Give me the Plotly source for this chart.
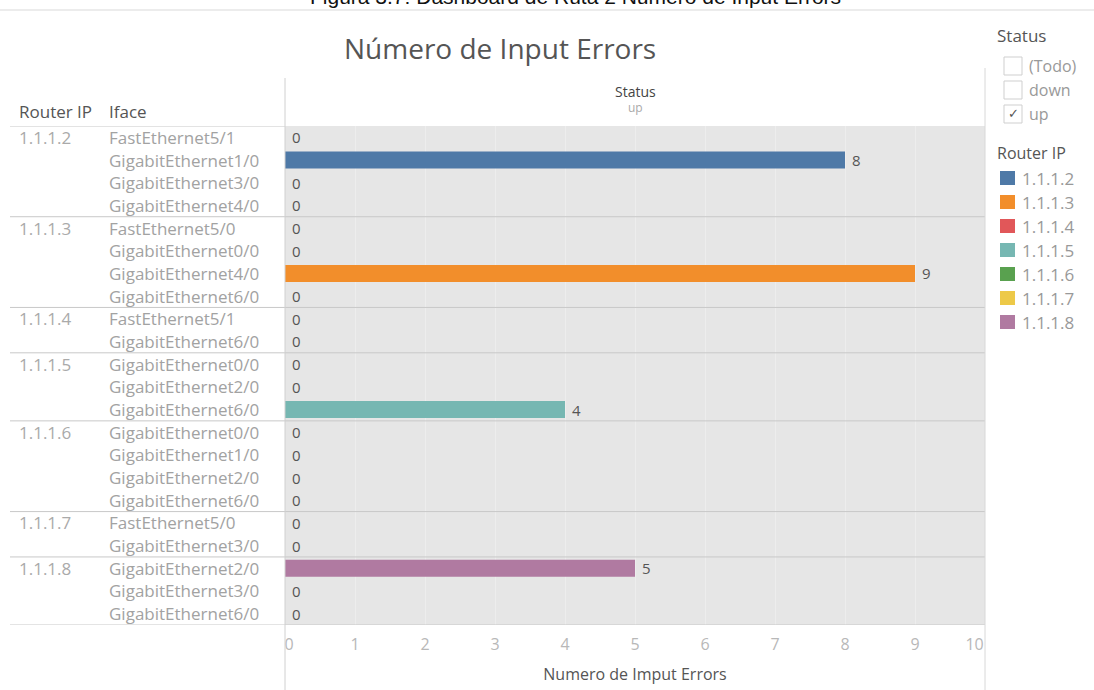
import plotly.graph_objects as go

# data
router_ip = ["1.1.1.2"] * 4 + ["1.1.1.3"] * 4 + ["1.1.1.4"] * 2 + ["1.1.1.5"] * 3 + \
            ["1.1.1.6"] * 4 + ["1.1.1.7"] * 2 + ["1.1.1.8"] * 3
iface = [
    "FastEthernet5/1", "GigabitEthernet1/0", "GigabitEthernet3/0", "GigabitEthernet4/0",
    "FastEthernet5/0", "GigabitEthernet0/0", "GigabitEthernet4/0", "GigabitEthernet6/0",
    "FastEthernet5/1", "GigabitEthernet6/0",
    "GigabitEthernet0/0", "GigabitEthernet2/0", "GigabitEthernet6/0",
    "GigabitEthernet0/0", "GigabitEthernet1/0", "GigabitEthernet2/0", "GigabitEthernet6/0",
    "FastEthernet5/0", "GigabitEthernet3/0",
    "GigabitEthernet2/0", "GigabitEthernet3/0", "GigabitEthernet6/0",
]
input_errors = [0, 8, 0, 0, 0, 0, 9, 0, 0, 0, 0, 0, 4, 0, 0, 0, 0, 0, 0, 5, 0, 0]
routers = ["1.1.1.2", "1.1.1.3", "1.1.1.4", "1.1.1.5", "1.1.1.6", "1.1.1.7", "1.1.1.8"]
router_colors = ["#4e79a7", "#f28e2b", "#e15759", "#76b7b2", "#59a14f", "#edc948", "#b07aa1"]
x_ticks = list(range(11))
status_options = ["(Todo)", "down", "up"]
status_checked = ["up"]

W, H = 1094, 690
FONT = "Open Sans"
NB = "\u00a0"


def px(x):
    return x / W


def py(y):
    return 1 - y / H


def label(x, y, text, size, color, xanchor="left", yref="paper", family=FONT):
    return dict(x=px(x), y=py(y) if yref == "paper" else y, xref="paper", yref=yref,
                text=text, xanchor=xanchor, yanchor="middle", showarrow=False,
                font=dict(family=family, size=size, color=color))


rows = list(range(len(iface)))
fig = go.Figure()

for r, col in zip(routers, router_colors):
    idx = [i for i in rows if router_ip[i] == r]
    fig.add_trace(go.Bar(
        y=idx,
        x=[input_errors[i] for i in idx],
        orientation="h",
        width=0.75,
        marker=dict(color=col, line=dict(width=0)),
        text=[NB + str(input_errors[i]) for i in idx],
        textposition="outside",
        constraintext="none",
        textfont=dict(family=FONT, size=15, color="#555"),
        cliponaxis=False,
        name=r,
        showlegend=False,
    ))

ann = []
shapes = []

# caption of the page, cut off at the top edge
ann.append(label(575, -4, "Figura 3.7: Dashboard de Ruta 2 Número de Input Errors", 21, "#111",
                 xanchor="center", family="Liberation Sans"))
shapes.append(dict(type="line", xref="paper", yref="paper", x0=0, x1=1, y0=py(10), y1=py(10),
                   line=dict(color="#ececec", width=2)))

# title and column headers
ann.append(label(500, 48, "Número de Input Errors", 28, "#555", xanchor="center"))
ann.append(label(635, 92, "Status", 14, "#444", xanchor="center"))
ann.append(label(635, 108, "up", 12, "#aaa", xanchor="center"))
ann.append(label(17, 112, "Router IP", 17, "#555"))
ann.append(label(107, 112, "Iface", 17, "#555"))

# row headers and group separators
for i in rows:
    ann.append(label(107, i, iface[i], 17, "#a2a2a2", yref="y"))
    if i == 0 or router_ip[i] != router_ip[i - 1]:
        ann.append(label(17, i, router_ip[i], 17, "#aaaaaa", yref="y"))
        if i > 0:
            shapes.append(dict(type="line", xref="paper", yref="y", x0=px(10), x1=px(985),
                               y0=i - 0.5, y1=i - 0.5, line=dict(color="#c8c8c8", width=1)))

shapes.append(dict(type="line", xref="paper", yref="y", x0=px(10), x1=px(285),
                   y0=-0.5, y1=-0.5, line=dict(color="#c8c8c8", width=1)))
shapes.append(dict(type="line", xref="paper", yref="y", x0=px(10), x1=px(985),
                   y0=len(rows) - 0.5, y1=len(rows) - 0.5, line=dict(color="#c8c8c8", width=1)))
shapes.append(dict(type="line", xref="paper", yref="paper", x0=px(285), x1=px(285),
                   y0=py(78), y1=0, line=dict(color="#d0d0d0", width=1)))
shapes.append(dict(type="line", xref="paper", yref="paper", x0=px(985), x1=px(985),
                   y0=py(68), y1=0, line=dict(color="#d8d8d8", width=1)))

# status filter
ann.append(label(995, 35, "Status", 17, "#555"))
for k, opt in enumerate(status_options):
    cy = 66 + k * 24
    shapes.append(dict(type="rect", xref="paper", yref="paper", x0=px(1004), x1=px(1022),
                       y0=py(cy - 9), y1=py(cy + 9), line=dict(color="#cfcfcf", width=1)))
    if opt in status_checked:
        ann.append(label(1013, cy, "✓", 13, "#555", xanchor="center", family="DejaVu Sans"))
    ann.append(label(1027, cy, opt, 16, "#999"))

# colour legend
ann.append(label(995, 153, "Router IP", 16, "#555"))
for k, (r, col) in enumerate(zip(routers, router_colors)):
    cy = 178 + k * 24
    shapes.append(dict(type="rect", xref="paper", yref="paper", x0=px(1000), x1=px(1015),
                       y0=py(cy - 7), y1=py(cy + 7), fillcolor=col, line=dict(width=0)))
    ann.append(label(1020, cy, r, 17, "#999"))

# edge tick labels sit inside the pane, as in the dashboard
tick_text = [str(t) for t in x_ticks]
tick_text[0] = NB * 2 + tick_text[0]
tick_text[-1] = tick_text[-1] + NB * 5

fig.update_layout(
    width=W, height=H,
    autosize=False,
    margin=dict(l=0, r=0, t=0, b=0, autoexpand=False),
    paper_bgcolor="white",
    plot_bgcolor="#e6e6e6",
    barmode="overlay",
    showlegend=False,
    annotations=ann,
    shapes=shapes,
    font=dict(family=FONT),
    xaxis=dict(
        domain=[px(285), px(985)],
        range=[0, 10],
        tickvals=x_ticks,
        ticktext=tick_text,
        automargin=False,
        showgrid=True, gridcolor="#ededed", gridwidth=1,
        zeroline=False, showline=False,
        ticks="outside", ticklen=5, tickcolor="rgba(0,0,0,0)",
        tickfont=dict(family=FONT, size=16, color="#b8b8b8"),
        title=dict(text="Numero de Imput Errors", standoff=14,
                   font=dict(family=FONT, size=16, color="#555")),
    ),
    yaxis=dict(
        domain=[py(625), py(126)],
        range=[len(rows) - 0.5, -0.5],
        automargin=False,
        showticklabels=False, showgrid=False, zeroline=False, showline=False, ticks="",
    ),
)

fig.write_html(
    "out.html",
    config={"displayModeBar": False, "responsive": False},
    post_script="document.body.style.margin='0px';document.body.style.overflow='hidden';",
)
